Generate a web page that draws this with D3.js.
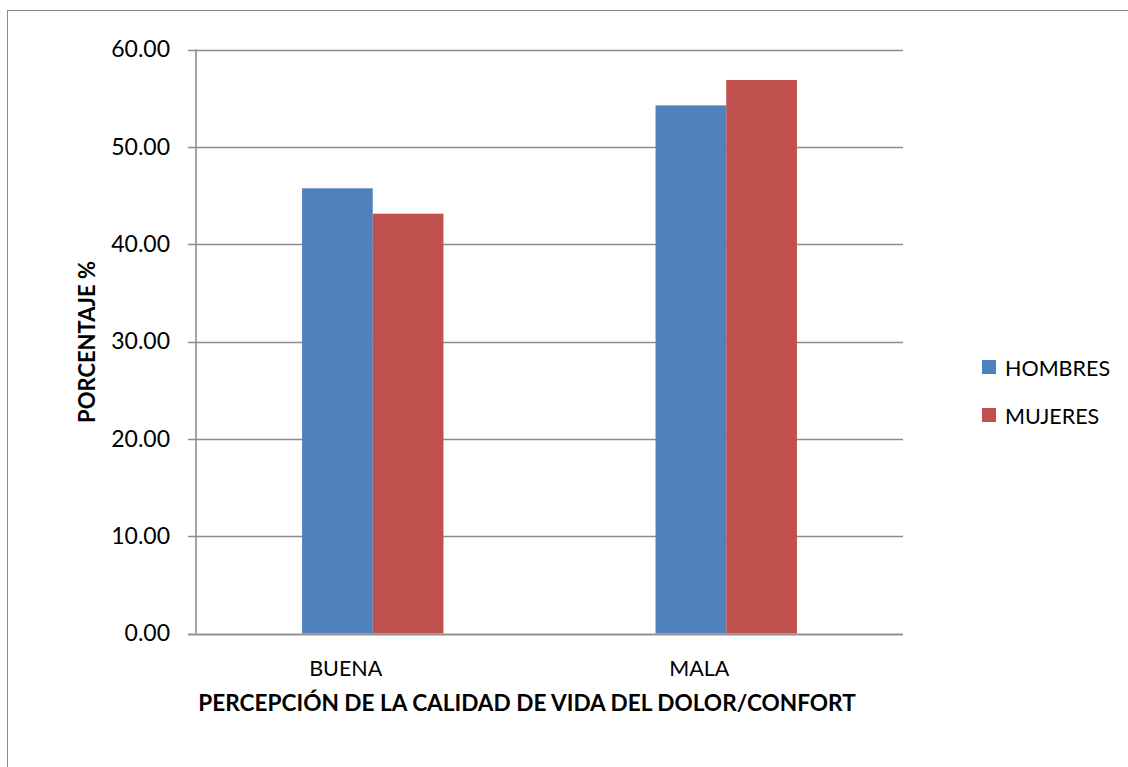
<!DOCTYPE html>
<html>
<head>
<meta charset="utf-8">
<script src="https://cdn.jsdelivr.net/npm/d3@7"></script>
<style>
  html, body { margin: 0; padding: 0; background: #fff; }
  svg { display: block; }
</style>
</head>
<body>
<svg id="chart" width="1128" height="767"></svg>
<script>
// Categories, series and values
const categories = ["BUENA", "MALA"];
const seriesNames = ["HOMBRES", "MUJERES"];
const hombres = [45.74, 54.26];
const mujeres = [43.13, 56.87];
const yTicks = [0, 10, 20, 30, 40, 50, 60];
const seriesColors = ["#4F81BD", "#C0504D"];

const values = [hombres, mujeres];
const rows = categories.map((c, i) => ({
  cat: c,
  vals: seriesNames.map((s, j) => ({ key: s, value: values[j][i], color: seriesColors[j] }))
}));

const svg = d3.select("#chart");
const font = "Lato, 'Open Sans', sans-serif";
const gridColor = "#8c8c8c";

// Outer chart frame (runs past the right and bottom edges)
svg.append("rect")
  .attr("x", 7.5).attr("y", 10.5)
  .attr("width", 1400).attr("height", 900)
  .attr("fill", "none").attr("stroke", "#8a8a8a").attr("stroke-width", 1);

const plot = { left: 196, right: 903, top: 49.5, bottom: 633.5 };

const y = d3.scaleLinear().domain([0, 60]).range([plot.bottom, plot.top]);
const x0 = d3.scaleBand().domain(categories).range([plot.left, plot.right]).padding(0);
const x1 = d3.scaleBand().domain(seriesNames).range([0, x0.bandwidth()])
  .paddingInner(0).paddingOuter(1.5);

// Horizontal gridlines with outward tick marks
const g = svg.append("g");
g.selectAll("line.grid")
  .data(yTicks)
  .join("line")
  .attr("class", "grid")
  .attr("x1", plot.left - 8).attr("x2", plot.right)
  .attr("y1", d => Math.round(y(d)) + 0.5).attr("y2", d => Math.round(y(d)) + 0.5)
  .attr("stroke", gridColor).attr("stroke-width", 1.3);

// Bars
const groups = g.selectAll("g.cat")
  .data(rows)
  .join("g")
  .attr("class", "cat")
  .attr("transform", d => `translate(${x0(d.cat)},0)`);

groups.selectAll("rect")
  .data(d => d.vals)
  .join("rect")
  .attr("x", d => x1(d.key))
  .attr("width", x1.bandwidth())
  .attr("y", d => y(d.value))
  .attr("height", d => y(0) - y(d.value))
  .attr("fill", d => d.color);

// Value axis line
g.append("line")
  .attr("x1", plot.left).attr("x2", plot.left)
  .attr("y1", plot.top).attr("y2", plot.bottom)
  .attr("stroke", gridColor).attr("stroke-width", 1.6);

// Category axis line over the bars' base
g.append("line")
  .attr("x1", plot.left - 8).attr("x2", plot.right)
  .attr("y1", Math.round(y(0)) + 0.5).attr("y2", Math.round(y(0)) + 0.5)
  .attr("stroke", gridColor).attr("stroke-width", 1.3);

// Y tick labels via a D3 axis
const yAxis = d3.axisLeft(y).tickValues(yTicks).tickFormat(d3.format(".2f")).tickSize(0).tickPadding(26);
const ya = svg.append("g").attr("transform", `translate(${plot.left},0)`).call(yAxis);
ya.select(".domain").remove();
ya.selectAll("text")
  .attr("font-family", font).attr("font-size", 23).attr("fill", "#000");

// X category labels via a D3 axis
const xAxis = d3.axisBottom(x0).tickSize(0).tickPadding(27);
const xa = svg.append("g").attr("transform", `translate(0,${plot.bottom})`).call(xAxis);
xa.select(".domain").remove();
xa.selectAll("text")
  .attr("font-family", font).attr("font-size", 21.5).attr("fill", "#000")
  .attr("dx", -27);

// Axis titles
svg.append("text")
  .attr("x", 527).attr("y", 711)
  .attr("text-anchor", "middle")
  .attr("font-family", font).attr("font-weight", "bold").attr("font-size", 22.6)
  .attr("fill", "#000")
  .text("PERCEPCIÓN DE LA CALIDAD DE VIDA DEL DOLOR/CONFORT");

svg.append("text")
  .attr("transform", "translate(95,342) rotate(-90)")
  .attr("text-anchor", "middle")
  .attr("font-family", font).attr("font-weight", "bold").attr("font-size", 22)
  .attr("fill", "#000")
  .text("PORCENTAJE %");

// Legend
const legend = svg.append("g").attr("transform", "translate(982,360)");
const li = legend.selectAll("g")
  .data(seriesNames)
  .join("g")
  .attr("transform", (d, i) => `translate(0,${i * 48})`);
li.append("rect")
  .attr("width", 14).attr("height", 14)
  .attr("fill", (d, i) => seriesColors[i]);
li.append("text")
  .attr("x", 23).attr("y", 15.5)
  .attr("font-family", font).attr("font-size", 21.5).attr("fill", "#000")
  .text(d => d);
</script>
</body>
</html>
